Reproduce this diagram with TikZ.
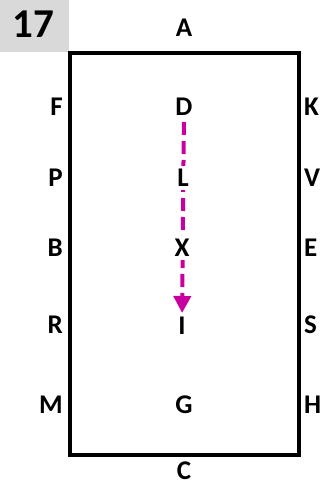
\documentclass[tikz,border=0pt]{standalone}
\usepackage{fontspec}
\setmainfont{Carlito}
\usetikzlibrary{arrows.meta}
\definecolor{route}{RGB}{200,0,160}
\definecolor{tag}{RGB}{217,217,217}
\begin{document}
\begin{tikzpicture}[x=1pt, y=-1pt]

\tikzstyle{every node} = [inner sep=1pt, font=\fontsize{27}{27}\bfseries\selectfont]
\tikzstyle{lside} = [anchor=east]
\tikzstyle{rside} = [anchor=west]
\tikzstyle{onroute} = [fill=white, inner sep=3pt]

\useasboundingbox (0,0) rectangle (322,487);

\fill[tag] (0,0) rectangle (69,52);
\node (n) at (33,24) {\fontsize{41}{41}\bfseries\selectfont 17};

\draw[line width=4pt] (70,53) rectangle (298.5,454.5);

\node (A) at (184,28) {A};
\node (C) at (184,471) {C};

\node[lside] (F) at (64,107) {F};
\node[lside] (P) at (64,178) {P};
\node[lside] (B) at (64,248) {B};
\node[lside] (R) at (64,325) {R};
\node[lside] (M) at (64,405) {M};

\node[rside] (K) at (303,107) {K};
\node[rside] (V) at (303,178) {V};
\node[rside] (E) at (303,248) {E};
\node[rside] (S) at (303,325) {S};
\node[rside] (H) at (303,405) {H};

\node (D) at (184,107) {D};
\node (I) at (182,326) {I};
\node (G) at (184,405) {G};

\draw[route, line width=4pt, dash pattern=on 13pt off 6pt,
  shorten <=15pt, shorten >=13pt,
  -{Triangle[length=17pt,width=17pt]}] (D.center) -- (I.center);

\node[onroute] (L) at (183,178) {L};
\node[onroute] (X) at (182,248) {X};
\end{tikzpicture}
\end{document}
